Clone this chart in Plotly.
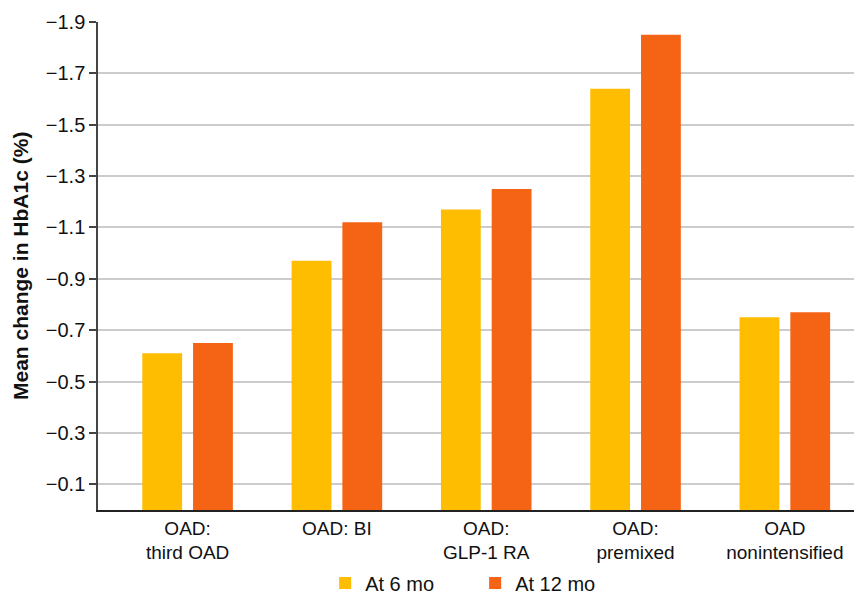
import plotly.graph_objects as go

categories = ["OAD:<br>third OAD", "OAD: BI", "OAD:<br>GLP-1 RA", "OAD:<br>premixed", "OAD<br>nonintensified"]
at_6_mo = [-0.61, -0.97, -1.17, -1.64, -0.75]
at_12_mo = [-0.65, -1.12, -1.25, -1.85, -0.77]
y_tick_vals = [-0.1, -0.3, -0.5, -0.7, -0.9, -1.1, -1.3, -1.5, -1.7, -1.9]
y_tick_text = ["\u22120.1", "\u22120.3", "\u22120.5", "\u22120.7", "\u22120.9",
               "\u22121.1", "\u22121.3", "\u22121.5", "\u22121.7", "\u22121.9"]
y_title = "Mean change in HbA1c (%)"

FONT = "Liberation Sans, Arial, Helvetica, sans-serif"

fig = go.Figure()
fig.add_trace(go.Bar(x=categories, y=at_6_mo, name="At 6 mo", marker_color="#FEBD00",
                     marker_line_width=0))
fig.add_trace(go.Bar(x=categories, y=at_12_mo, name="At 12 mo", marker_color="#F56314",
                     marker_line_width=0))

# page body has an 8px margin, so the figure is sized to fill the 862x597 window
fig.update_layout(
    width=854, height=588,
    margin=dict(l=90, r=1, t=14, b=86),
    paper_bgcolor="white", plot_bgcolor="white",
    font=dict(family=FONT, size=20, color="#111111"),
    barmode="group", bargap=0.32, bargroupgap=0.216,
    showlegend=True,
    legend=dict(orientation="h", xref="container", yref="container",
                x=0.547, xanchor="center", y=0.022, yanchor="middle",
                font=dict(size=20), itemwidth=30, traceorder="normal",
                entrywidth=105, itemsizing="constant"),
    xaxis=dict(range=[-0.6, 4.51], showline=True, linecolor="#222222", linewidth=1.5,
               ticks="", showgrid=False, tickfont=dict(size=19), automargin=False),
    yaxis=dict(range=[0, -1.9], tickvals=y_tick_vals, ticktext=y_tick_text,
               showline=True, linecolor="#444444", linewidth=1.5,
               ticks="outside", ticklen=7, tickcolor="#444444", tickwidth=1.5,
               showgrid=True, gridcolor="#cccccc", gridwidth=1.5, zeroline=False,
               tickfont=dict(size=20), automargin=False),
    annotations=[dict(text="<b>" + y_title + "</b>", textangle=-90, xref="paper", yref="paper",
                      x=0, y=0.5, xanchor="center", yanchor="middle", xshift=-78,
                      showarrow=False, font=dict(size=21, color="#111111"))],
)

fig.write_html("out.html")
